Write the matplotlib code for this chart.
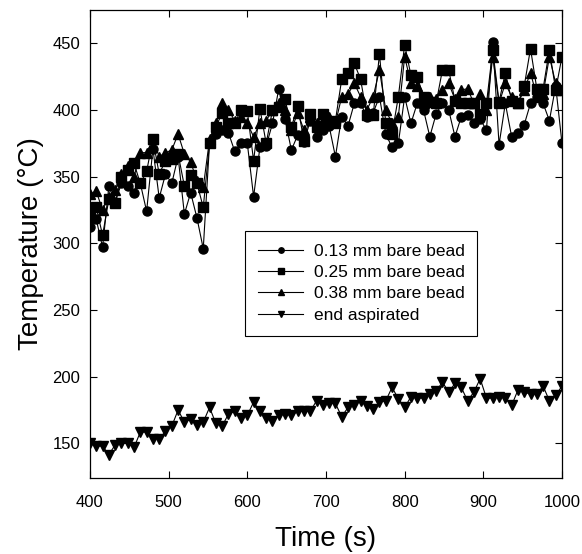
import matplotlib
matplotlib.use("Agg")
import matplotlib.pyplot as plt

# time axis (s), one reading every 8 s
time_s = [400, 408, 416, 424, 432, 440, 448, 456, 464, 472, 480, 488, 496, 504, 512, 520,
          528, 536, 544, 552, 560, 568, 576, 584, 592, 600, 608, 616, 624, 632, 640, 648,
          656, 664, 672, 680, 688, 696, 704, 712, 720, 728, 736, 744, 752, 760, 768, 776,
          784, 792, 800, 808, 816, 824, 832, 840, 848, 856, 864, 872, 880, 888, 896, 904,
          912, 920, 928, 936, 944, 952, 960, 968, 976, 984, 992, 1000]

bead_013 = [312, 318, 297, 343, 331, 345, 343, 338, 345, 324, 371, 334, 352, 345, 365, 322,
            338, 319, 296, 375, 382, 385, 383, 369, 375, 375, 335, 372, 373, 390, 416, 393,
            370, 381, 376, 392, 380, 385, 388, 365, 395, 388, 405, 405, 395, 398, 410, 382,
            372, 375, 410, 390, 405, 400, 380, 397, 405, 400, 380, 395, 396, 390, 393, 385,
            451, 374, 405, 380, 383, 389, 405, 410, 405, 392, 418, 375]

bead_025 = [320, 327, 306, 333, 330, 350, 355, 360, 345, 354, 378, 352, 362, 363, 367, 343,
            351, 345, 327, 375, 387, 398, 390, 390, 400, 399, 362, 401, 375, 400, 402, 408,
            387, 403, 377, 397, 387, 397, 391, 392, 423, 428, 435, 423, 396, 396, 442, 390,
            382, 410, 449, 426, 425, 410, 406, 405, 430, 430, 407, 405, 405, 405, 397, 405,
            445, 406, 428, 407, 405, 418, 446, 416, 416, 445, 415, 440]

bead_038 = [337, 339, 325, 335, 340, 352, 358, 350, 368, 368, 378, 365, 368, 370, 382, 367,
            361, 347, 342, 378, 390, 405, 400, 392, 395, 390, 380, 390, 392, 400, 405, 400,
            385, 398, 385, 395, 390, 392, 395, 390, 410, 412, 420, 410, 400, 410, 430, 400,
            390, 395, 440, 420, 418, 405, 410, 408, 415, 420, 408, 415, 416, 405, 412, 400,
            440, 405, 420, 410, 405, 415, 428, 410, 412, 440, 420, 415]

end_aspirated = [150, 148, 148, 141.5, 149, 150, 150, 147, 158.5, 158.5, 153.5, 153.5, 159,
                 163, 175, 166, 168, 163.5, 166, 177, 165, 163, 172, 174, 169, 171, 181, 174,
                 169, 167, 171, 172, 171, 174, 174, 174, 182, 179, 180, 180, 170, 177, 179,
                 182, 178, 176, 181, 182, 192, 183.5, 177, 185, 184, 184, 187, 189, 196,
                 188.5, 195, 192, 182, 188.5, 198.5, 184, 184, 185, 184, 178.5, 190, 188.5,
                 187, 187, 193, 182, 186, 193]

labels = ["0.13 mm bare bead", "0.25 mm bare bead", "0.38 mm bare bead", "end aspirated"]

plt.rcParams['font.family'] = ['Liberation Sans', 'DejaVu Sans']

fig = plt.figure(figsize=(5.82, 5.54), dpi=100)
ax = fig.add_axes([0.1546, 0.137, 0.811, 0.845])

series = [bead_013, bead_025, bead_038, end_aspirated]
markers = ['o', 's', '^', 'v']
for vals, mk, lab in zip(series, markers, labels):
    ax.plot(time_s, vals, color='black', lw=0.8, marker=mk, ms=6.5,
            markerfacecolor='black', markeredgecolor='black', label=lab)

ax.set_xlim(400, 1000)
ax.set_ylim(124, 475)
ax.set_xticks([400, 500, 600, 700, 800, 900, 1000])
ax.set_yticks([150, 200, 250, 300, 350, 400, 450])
ax.tick_params(direction='in', top=True, right=True, length=5, width=0.8,
               labelsize=12, pad=7)
ax.tick_params(axis='x', pad=12)
for sp in ax.spines.values():
    sp.set_linewidth(0.9)

ax.set_xlabel("Time (s)", fontsize=20, labelpad=12)
ax.set_ylabel("Temperature (\u00b0C)", fontsize=20, labelpad=6)

leg = ax.legend(loc='upper left', bbox_to_anchor=(0.31, 0.547), fontsize=12.5,
                markerscale=0.6, handlelength=2.6, labelspacing=0.35,
                fancybox=False, edgecolor='black', framealpha=1,
                borderpad=0.75, handletextpad=0.6)
leg.get_frame().set_linewidth(0.8)

fig.savefig("out.png", dpi=100)
